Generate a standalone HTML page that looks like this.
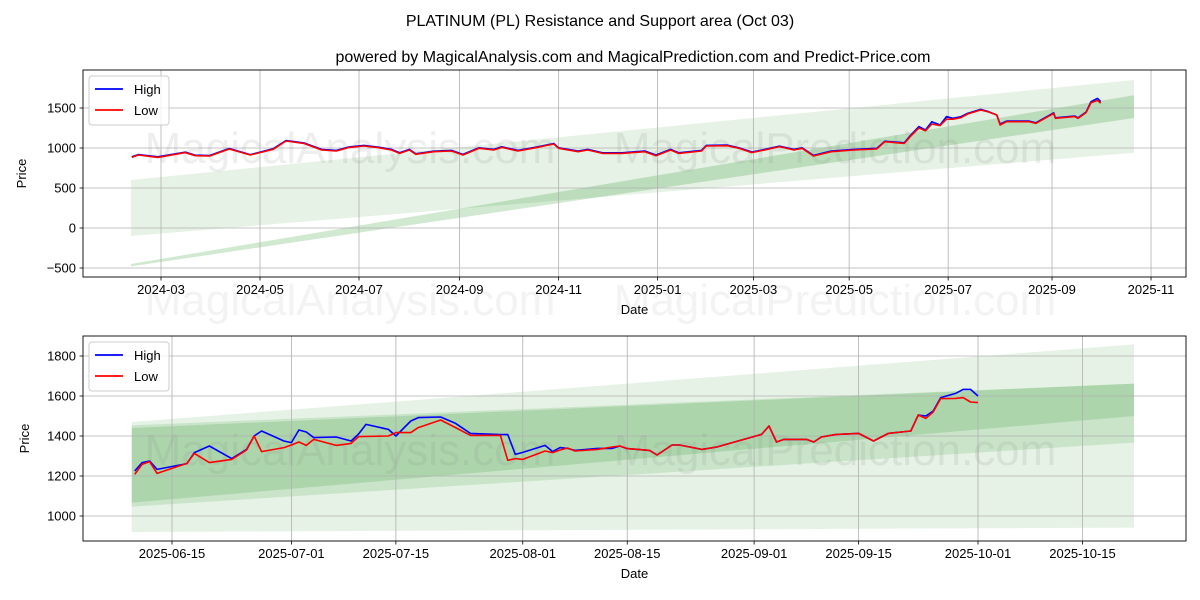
<!DOCTYPE html>
<html><head><meta charset="utf-8"><style>
body{margin:0;background:#fff}
svg{display:block;font-family:"Liberation Sans","DejaVu Sans",sans-serif}
</style></head><body>
<svg id="chart" width="1200" height="600" xmlns="http://www.w3.org/2000/svg">
<rect width="1200" height="600" fill="#fff"/>
<text x="600" y="26" text-anchor="middle" font-size="16">PLATINUM (PL) Resistance and Support area (Oct 03)</text>
<text x="633" y="62" text-anchor="middle" font-size="16">powered by MagicalAnalysis.com and MagicalPrediction.com and Predict-Price.com</text>
<g id="top"></g>
<g id="bot"></g>
</svg>
<script>
// ---- top chart data (days since 2024-03-01) ----
const topDays=[-18,-14,-2,15,21,30,42,55,69,77,88,99,108,116,125,134,142,147,153,157,168,179,186,196,205,210,220,231,242,245,257,263,272,284,298,305,314,319,333,336,349,356,364,372,381,390,395,402,413,427,441,446,458,462,467,471,475,480,484,488,493,497,505,510,515,517,521,535,539,550,551,563,565,570,573,577,579];
const topLow=[883,912,883,942,904,900,988,912,983,1088,1058,975,963,1008,1025,1004,975,933,975,921,954,963,913,996,975,1008,963,1004,1050,996,954,975,933,933,954,904,975,933,963,1025,1029,996,942,975,1017,975,996,900,954,975,988,1079,1058,1150,1250,1215,1300,1280,1360,1360,1380,1425,1475,1450,1413,1288,1329,1329,1308,1433,1371,1392,1371,1442,1565,1595,1560];
const topHigh=[890,918,890,948,910,906,994,918,990,1094,1064,982,970,1014,1032,1010,982,940,982,928,960,970,920,1003,982,1015,970,1010,1056,1003,962,982,940,940,962,912,982,940,970,1032,1036,1003,950,982,1024,982,1003,908,962,982,996,1085,1065,1163,1267,1225,1329,1288,1392,1371,1392,1433,1483,1454,1413,1300,1336,1336,1315,1440,1378,1400,1378,1450,1579,1620,1580];
const topBandDays=[-18.5,599.5];
const topBand1Top=[600,1850], topBand1Bot=[-100,940];
const topBand2Top=[-450,1660], topBand2Bot=[-480,1375];
const topYTicks=[-500,0,500,1000,1500];
const topXTickDays=[0,61,122,184,245,306,365,424,485,549,610];
const topXTickLabels=["2024-03","2024-05","2024-07","2024-09","2024-11","2025-01","2025-03","2025-05","2025-07","2025-09","2025-11"];
// ---- bottom chart data (days since 2025-06-15) ----
const botDays=[-5,-4,-3,-2,2,3,5,8,10,11,12,15,16,17,18,19,22,24,25,26,29,30,32,33,36,38,40,44,45,46,47,50,51,52,53,54,57,59,60,61,64,65,67,68,71,73,79,80,81,82,85,86,87,89,92,94,96,99,100,101,102,103,105,106,107,108];
const botHigh=[1225,1267,1275,1233,1262,1317,1350,1287,1333,1400,1425,1375,1367,1430,1420,1392,1395,1375,1410,1458,1433,1400,1475,1492,1495,1463,1413,1407,1407,1308,1318,1353,1322,1342,1338,1328,1338,1338,1350,1337,1328,1305,1355,1355,1333,1345,1408,1450,1370,1383,1383,1370,1395,1408,1413,1375,1413,1425,1505,1500,1525,1592,1613,1633,1633,1600];
const botLow=[1208,1258,1272,1213,1263,1313,1267,1283,1330,1400,1322,1342,1355,1370,1353,1383,1353,1363,1397,1398,1400,1417,1417,1442,1480,1442,1403,1403,1278,1287,1283,1325,1317,1330,1340,1325,1333,1345,1350,1337,1328,1305,1355,1355,1333,1345,1408,1450,1370,1383,1383,1370,1395,1408,1413,1375,1413,1425,1505,1488,1520,1587,1588,1592,1570,1567];
const botBandDays=[-5.4,128.9];
const botBand1Top=[1470,1858], botBand1Bot=[920,942];
const botBand2Top=[1453,1662], botBand2Bot=[1047,1367];
const botBand3Top=[1440,1662], botBand3Bot=[1067,1500];
const botYTicks=[1000,1200,1400,1600,1800];
const botXTickDays=[0,16,30,47,61,78,92,108,122];
const botXTickLabels=["2025-06-15","2025-07-01","2025-07-15","2025-08-01","2025-08-15","2025-09-01","2025-09-15","2025-10-01","2025-10-15"];

const NS="http://www.w3.org/2000/svg";
function mk(parent,tag,attrs){const e=document.createElementNS(NS,tag);for(const k in attrs)e.setAttribute(k,attrs[k]);parent.appendChild(e);return e;}

function panel(g,box,xs,ys,opt){
  const [L,T,R,B]=box;
  const clipId=opt.id+"clip";
  const defs=mk(g,"defs",{});
  const cp=mk(defs,"clipPath",{id:clipId});
  mk(cp,"rect",{x:L,y:T,width:R-L,height:B-T});
  const inner=mk(g,"g",{"clip-path":"url(#"+clipId+")"});
  // bands
  opt.bands.forEach((bd,i)=>{
    const d=opt.bandDays;
    const pts=[[xs(d[0]),ys(bd.top[0])],[xs(d[1]),ys(bd.top[1])],[xs(d[1]),ys(bd.bot[1])],[xs(d[0]),ys(bd.bot[0])]];
    const p=mk(inner,"polygon",{points:pts.map(q=>q.join(",")).join(" "),fill:"green","fill-opacity":bd.a});
    
    
  });
  // grid
  opt.xTicks.forEach((t,i)=>{
    const x=xs(t);
    mk(inner,"line",{x1:x,x2:x,y1:T,y2:B,stroke:"#b0b0b0","stroke-width":0.8});
    mk(g,"line",{x1:x,x2:x,y1:B,y2:B+3.5,stroke:"#000","stroke-width":0.8});
    const tx=mk(g,"text",{x:x,y:B+17,"text-anchor":"middle","font-size":13});
    tx.textContent=opt.xLabels[i];
    
    
  });
  opt.yTicks.forEach(v=>{
    const y=ys(v);
    mk(inner,"line",{x1:L,x2:R,y1:y,y2:y,stroke:"#b0b0b0","stroke-width":0.8});
    mk(g,"line",{x1:L-3.5,x2:L,y1:y,y2:y,stroke:"#000","stroke-width":0.8});
    const tx=mk(g,"text",{x:L-7,y:y+4.5,"text-anchor":"end","font-size":13});
    tx.textContent=v<0?"\u2212"+Math.abs(v):String(v);
    
    
  });
  // watermarks
  [["MagicalAnalysis.com",350],["MagicalPrediction.com",835]].forEach(w=>{
    const t=mk(inner,"text",{x:w[1],y:opt.wmY,"text-anchor":"middle","font-size":44,fill:"#888","fill-opacity":0.14});
    t.textContent=w[0];
    
    
  });
  // lines
  const line=(days,vals,col,name)=>{
    const p=mk(inner,"polyline",{points:days.map((d,i)=>xs(d).toFixed(1)+","+ys(vals[i]).toFixed(1)).join(" "),fill:"none",stroke:col,"stroke-width":1.6,"stroke-linejoin":"round"});
    
    
  };
  line(opt.days,opt.high,"#0000ff","high-line");
  line(opt.days,opt.low,"#ff0000","low-line");
  mk(g,"rect",{x:L,y:T,width:R-L,height:B-T,fill:"none",stroke:"#000","stroke-width":0.9});
  // legend
  const lg=mk(g,"g",{});
  
  
  mk(lg,"rect",{x:L+6,y:T+6,width:80,height:49,rx:3,fill:"#fff","fill-opacity":0.8,stroke:"#ccc"});
  [["High","#0000ff",T+19],["Low","#ff0000",T+40]].forEach(e=>{
    mk(lg,"line",{x1:L+12,x2:L+40,y1:e[2],y2:e[2],stroke:e[1],"stroke-width":1.8});
    const t=mk(lg,"text",{x:L+51,y:e[2]+5,"font-size":13});
    t.textContent=e[0];
    
    
  });
  const xl=mk(g,"text",{x:(L+R)/2,y:B+37,"text-anchor":"middle","font-size":13});
  xl.textContent="Date";
  
  
  const yl=mk(g,"text",{x:0,y:0,"text-anchor":"middle","font-size":13,transform:"translate("+opt.ylx+","+((T+B)/2)+") rotate(-90)"});
  yl.textContent="Price";
  
  
}

panel(document.getElementById("top"),[83,70,1186,277],d=>161+d*1.623,v=>228-v*0.08,{
  id:"t",bandDays:topBandDays,
  bands:[{top:topBand1Top,bot:topBand1Bot,a:0.1},{top:topBand2Top,bot:topBand2Bot,a:0.18}],
  xTicks:topXTickDays,xLabels:topXTickLabels,yTicks:topYTicks,
  days:topDays,high:topHigh,low:topLow,wmY:163,ylx:26});
panel(document.getElementById("bot"),[83,336,1186,541],d=>172+d*7.463,v=>436-(v-1400)*0.2,{
  id:"b",bandDays:botBandDays,
  bands:[{top:botBand1Top,bot:botBand1Bot,a:0.1},{top:botBand2Top,bot:botBand2Bot,a:0.12},{top:botBand3Top,bot:botBand3Bot,a:0.14}],
  xTicks:botXTickDays,xLabels:botXTickLabels,yTicks:botYTicks,
  days:botDays,high:botHigh,low:botLow,wmY:465,ylx:29});
// faint watermark between panels
const svg=document.getElementById("chart");
[["MagicalAnalysis.com",350],["MagicalPrediction.com",835]].forEach(w=>{
  const t=mk(svg,"text",{x:w[1],y:315,"text-anchor":"middle","font-size":44,fill:"#888","fill-opacity":0.1});
  t.textContent=w[0];
  
  
});
</script>
</body></html>
